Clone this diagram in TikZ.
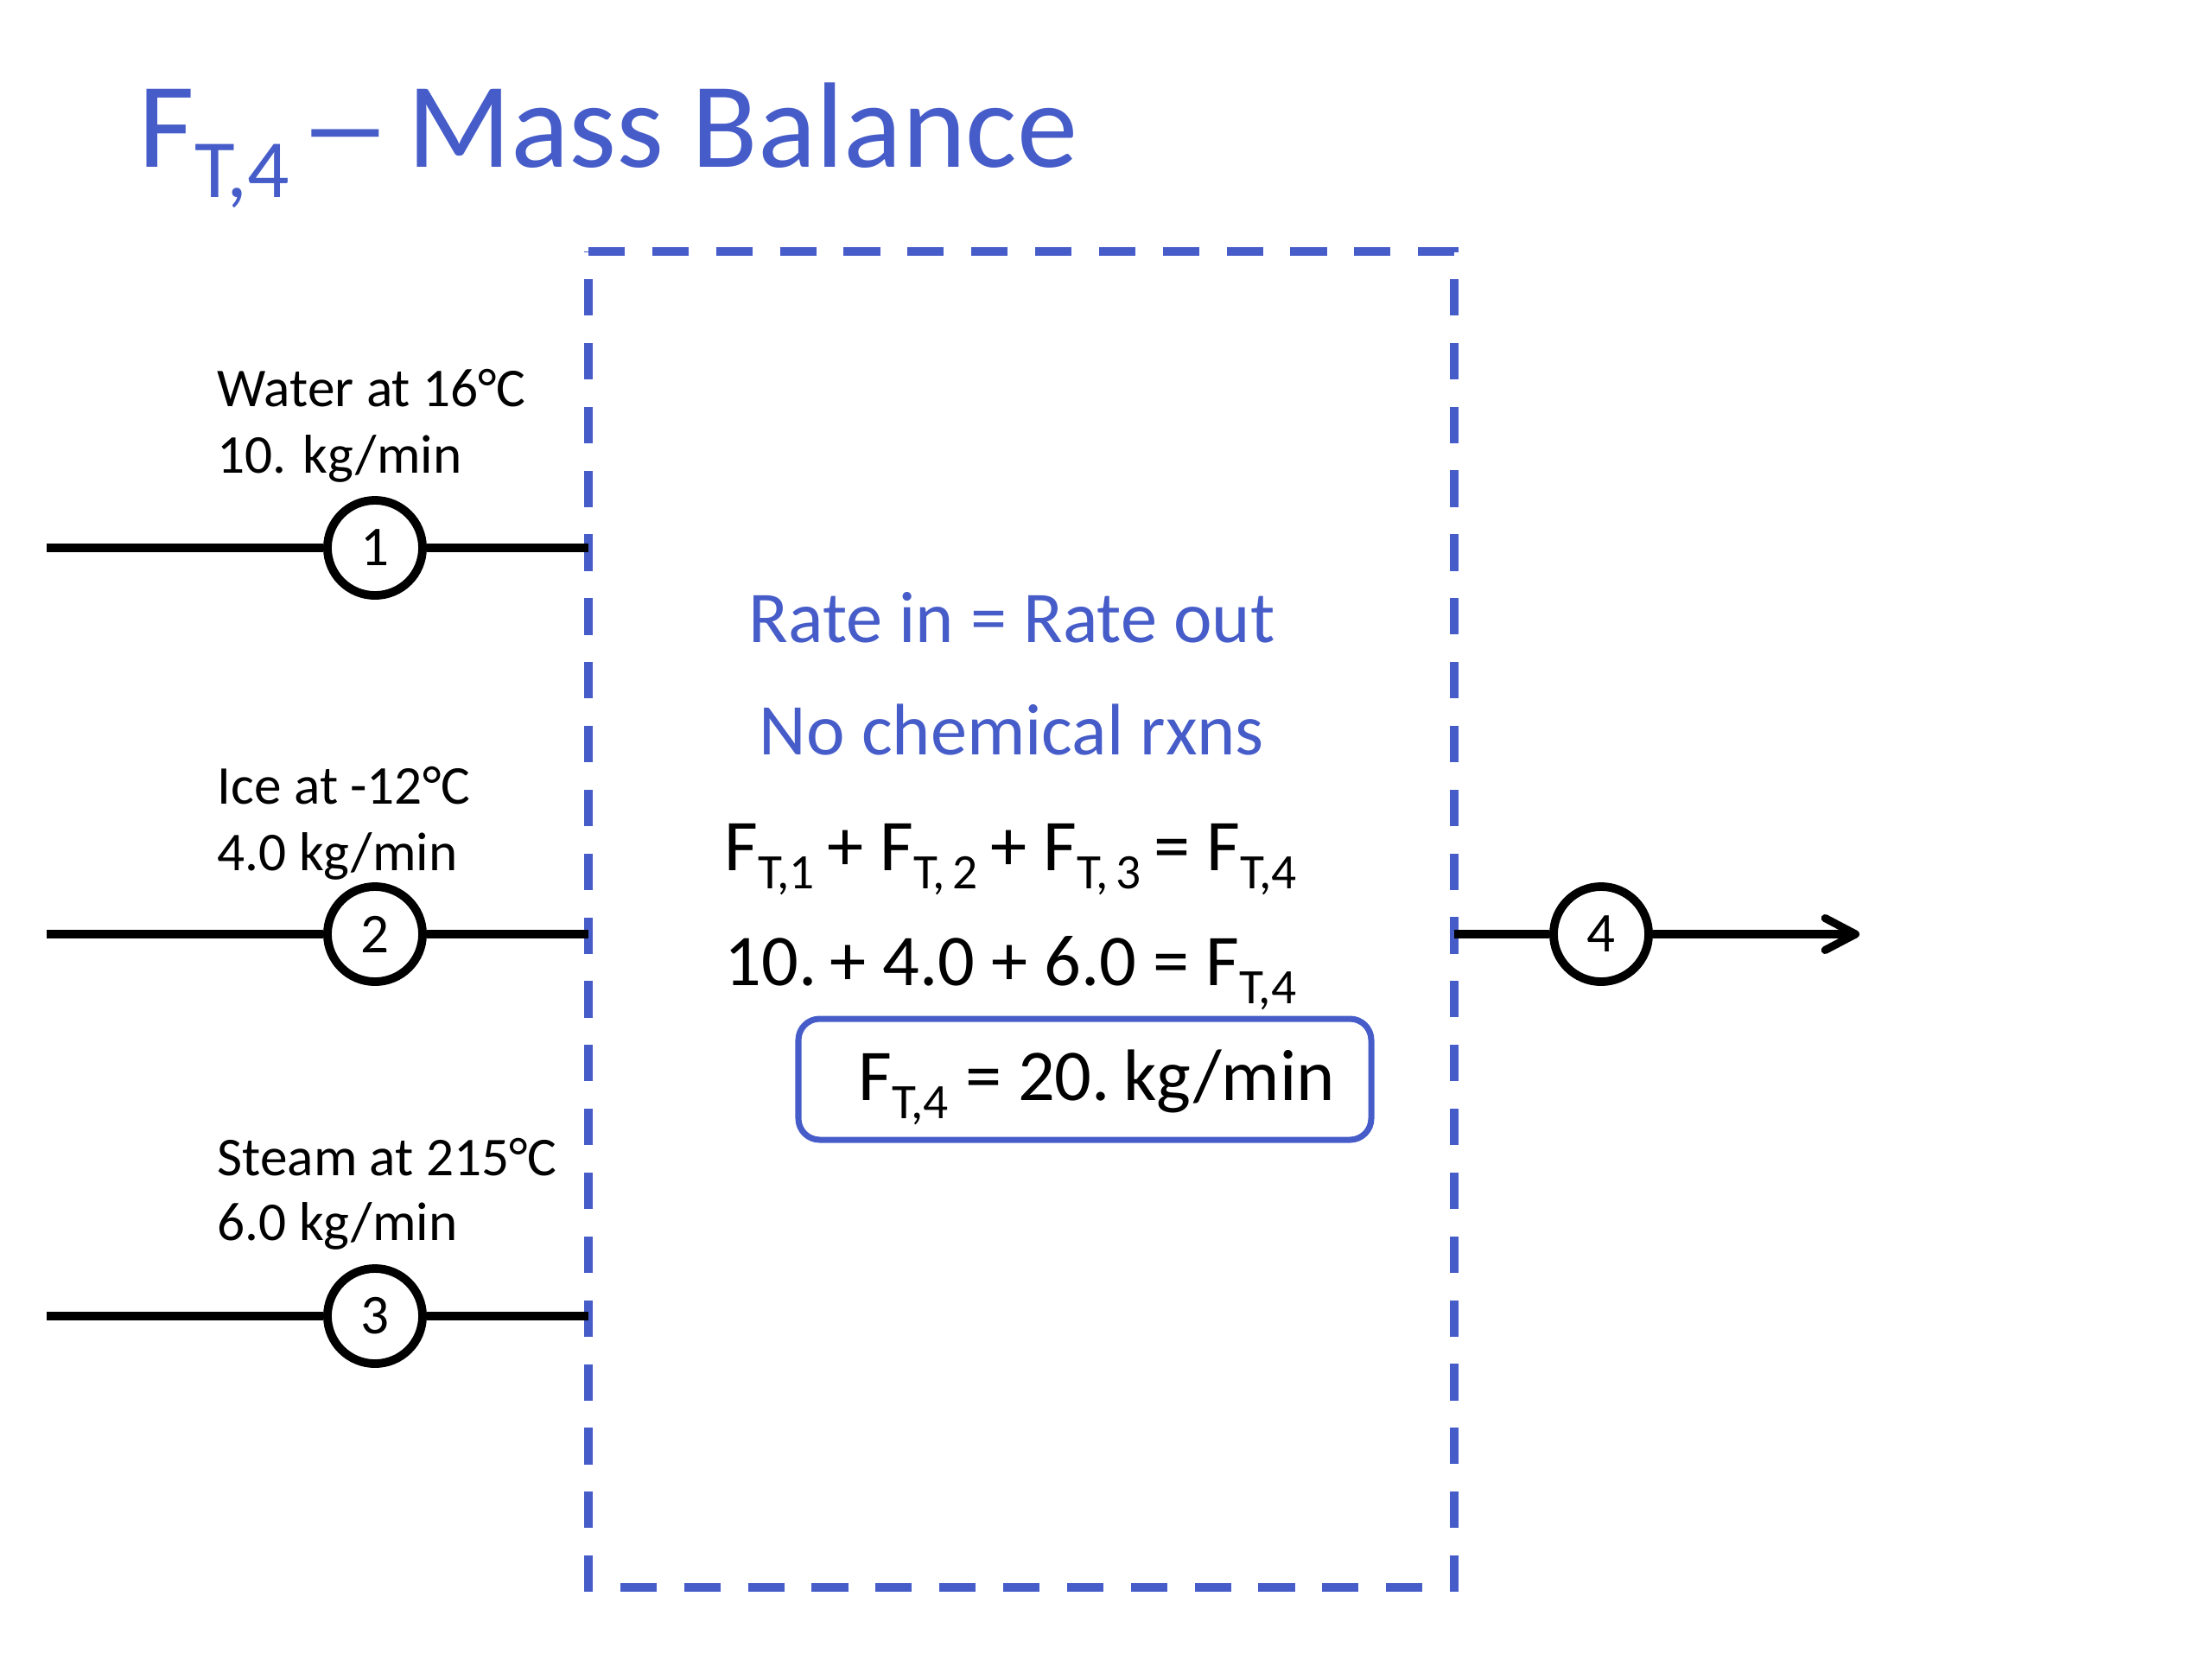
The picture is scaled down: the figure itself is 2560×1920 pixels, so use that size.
\documentclass[tikz,border=0pt]{standalone}
\usepackage{fontspec}
\usepackage{graphicx}
\setmainfont{Carlito}
\usetikzlibrary{arrows.meta}
\definecolor{pblue}{RGB}{70,92,200}
\newcommand\sbs[1]{\raisebox{-0.25em}{\scalebox{0.68}{#1}}}
\begin{document}
\begin{tikzpicture}[x=0.01cm,y=-0.01cm,
  body/.style={font=\fontsize{18}{22}\selectfont, anchor=base west, inner sep=0pt},
  eq/.style={font=\fontsize{24}{29}\selectfont, inner sep=0pt},
  stream/.style={circle, draw, line width=2.8pt, minimum size=1.1cm, inner sep=0pt, font=\fontsize{18.5}{22}\selectfont},
  pipe/.style={line width=2.6pt},
  boundary/.style={draw=pblue, line width=2.8pt, dash pattern=on 12pt off 9pt},
  resultbox/.style={draw=pblue, line width=2pt, rounded corners=7pt}]
\useasboundingbox (0,0) rectangle (2560,1920);
% title
\node[anchor=base west, inner sep=0pt, text=pblue, font=\fontsize{40}{48}\selectfont] (title) at (160,193) {F\sbs{T,4}\hspace{0.08em}\scalebox{1.55}[1]{–}\hspace{0.12em}Mass Balance};
% system boundary
\coordinate (tl) at (681,291);
\coordinate (tr) at (1683,291);
\coordinate (br) at (1683,1837);
\coordinate (bl) at (681,1837);
\draw[boundary] (tl) -- (tr) -- (br) -- (bl) -- cycle;
% streams
\node[stream] (s1) at (434,634) {1};
\node[stream] (s2) at (434,1081) {2};
\node[stream] (s3) at (434,1523) {3};
\node[stream] (s4) at (1853,1081) {4};
\coordinate (in1) at (54,634);
\coordinate (in2) at (54,1081);
\coordinate (in3) at (54,1523);
\coordinate (b1) at (681,634);
\coordinate (b2) at (681,1081);
\coordinate (b3) at (681,1523);
\coordinate (b4) at (1683,1081);
\coordinate (out) at (2152,1081);
\draw[pipe] (in1) -- (s1) -- (b1);
\draw[pipe] (in2) -- (s2) -- (b2);
\draw[pipe] (in3) -- (s3) -- (b3);
\draw[pipe] (b4) -- (s4);
\draw[pipe, -{Straight Barb[length=10pt, width=10.5pt, line cap=round, line join=round]}] (s4) -- (out);
% stream labels
\node[body] (l1a) at (251,470) {Water at 16°C};
\node[body] (l1b) at (251,547) {10. kg/min};
\node[body] (l2a) at (251,930) {Ice at -12°C};
\node[body] (l2b) at (251,1007) {4.0 kg/min};
\node[body] (l3a) at (251,1360) {Steam at 215°C};
\node[body] (l3b) at (251,1435) {6.0 kg/min};
% balance text
\node[eq, text=pblue, anchor=base] (rate) at (1171,743) {Rate in = Rate out};
\node[eq, text=pblue, anchor=base] (norxn) at (1171,873) {No chemical rxns};
\node[eq, anchor=base west] (eq1) at (838,1007) {F\sbs{T,1}\hspace{-0.05em} + F\sbs{T,\hspace{0.15em}2}\hspace{-0.05em} + F\sbs{T,\hspace{0.15em}3}\hspace{-0.05em} = F\sbs{T,4}};
\node[eq, anchor=base west] (eq2) at (838,1140) {10.\hspace{0.18em}+ 4.0 + 6.0 = F\sbs{T,4}};
\draw[resultbox] (924,1179) rectangle (1587,1319);
\node[eq, anchor=base west] (res) at (993,1273) {F\sbs{T,4} = 20.\hspace{0.18em}kg/min};
\end{tikzpicture}
\end{document}
